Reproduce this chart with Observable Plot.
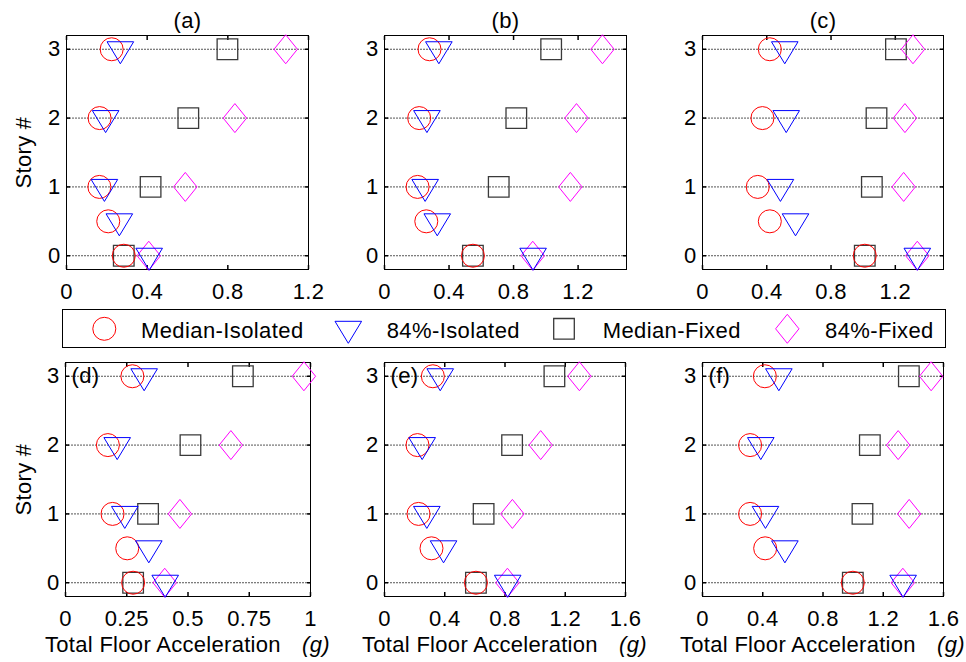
<!DOCTYPE html>
<html>
<head>
<meta charset="utf-8">
<script src="https://cdn.jsdelivr.net/npm/d3@7"></script>
<script src="https://cdn.jsdelivr.net/npm/@observablehq/plot@0.6"></script>
<style>
  body { margin: 0; background: #fff; }
  #wrap { position: relative; width: 966px; height: 662px; overflow: hidden; background: #fff;
          font-family: Arial, "Liberation Sans", sans-serif; }
  .panel { position: absolute; }
  #legend { position: absolute; left: 62px; top: 309px; width: 884px; height: 39px; }
</style>
</head>
<body>
<div id="wrap"></div>
<script>
// ---------------- data ----------------
const panelLabels = ["(a)", "(b)", "(c)", "(d)", "(e)", "(f)"];
const xMax = [1.2, 1.5, 1.5, 1, 1.6, 1.6];
const xTicks = [
  [0, 0.4, 0.8, 1.2],
  [0, 0.4, 0.8, 1.2],
  [0, 0.4, 0.8, 1.2],
  [0, 0.25, 0.5, 0.75, 1],
  [0, 0.4, 0.8, 1.2, 1.6],
  [0, 0.4, 0.8, 1.2, 1.6]
];
const yTicks = [0, 1, 2, 3];
const storyIso = [0, 0.5, 1, 2, 3];   // isolated: ground, isolation level, floors
const storyFix = [0, 1, 2, 3];        // fixed-base: ground, floors

const medianIso = [
  [0.284, 0.207, 0.163, 0.164, 0.224],
  [0.548, 0.259, 0.205, 0.215, 0.279],
  [1.010, 0.419, 0.344, 0.373, 0.419],
  [0.276, 0.252, 0.192, 0.173, 0.273],
  [0.607, 0.312, 0.226, 0.219, 0.321],
  [0.998, 0.416, 0.316, 0.316, 0.414]
];
const p84Iso = [
  [0.410, 0.262, 0.188, 0.194, 0.267],
  [0.921, 0.327, 0.252, 0.263, 0.337],
  [1.337, 0.579, 0.485, 0.521, 0.512],
  [0.407, 0.340, 0.242, 0.211, 0.321],
  [0.818, 0.392, 0.281, 0.250, 0.370],
  [1.332, 0.547, 0.418, 0.387, 0.507]
];
const medianFix = [
  [0.284, 0.417, 0.604, 0.798],
  [0.548, 0.708, 0.817, 1.033],
  [1.010, 1.054, 1.083, 1.204],
  [0.276, 0.337, 0.510, 0.724],
  [0.607, 0.658, 0.847, 1.128],
  [0.998, 1.062, 1.111, 1.370]
];
const p84Fix = [
  [0.408, 0.589, 0.835, 1.087],
  [0.919, 1.152, 1.190, 1.351],
  [1.337, 1.252, 1.260, 1.310],
  [0.405, 0.467, 0.675, 0.973],
  [0.816, 0.849, 1.037, 1.294],
  [1.330, 1.372, 1.299, 1.518]
];
const seriesNames = ["Median-Isolated", "84%-Isolated", "Median-Fixed", "84%-Fixed"];

// ---------------- symbols (MATLAB-like markers) ----------------
function kOf(size) { return Math.sqrt(size / Math.PI) / 12; }
const circleSym = { draw(ctx, size) { const R = 11.5 * kOf(size); ctx.moveTo(R, 0); ctx.arc(0, 0, R, 0, 2 * Math.PI); } };
const triDownSym = { draw(ctx, size) { const k = kOf(size), hw = 13.3 * k, t = -7.5 * k, a = 14.5 * k;
  ctx.moveTo(-hw, t); ctx.lineTo(hw, t); ctx.lineTo(0, a); ctx.closePath(); } };
const squareSym = { draw(ctx, size) { const h = 10.3 * kOf(size); ctx.rect(-h, -h, 2 * h, 2 * h); } };
const diamondSym = { draw(ctx, size) { const k = kOf(size), w = 11.7 * k, h = 14.5 * k;
  ctx.moveTo(0, -h); ctx.lineTo(w, 0); ctx.lineTo(0, h); ctx.lineTo(-w, 0); ctx.closePath(); } };
const seriesSymbols = [circleSym, triDownSym, squareSym, diamondSym];
const seriesColors = ["#ff0000", "#0000ff", "#3a3a3a", "#ff00ff"];
const seriesWidths = [1, 1, 1.3, 1];

// ---------------- layout ----------------
const layout = [
  { left: 0,   top: 0,   width: 325, height: 305, ml: 66, mr: 17, mt: 35, mb: 36 },
  { left: 330, top: 0,   width: 320, height: 305, ml: 54, mr: 24, mt: 35, mb: 36 },
  { left: 650, top: 0,   width: 316, height: 305, ml: 52, mr: 23, mt: 35, mb: 36 },
  { left: 0,   top: 350, width: 325, height: 312, ml: 65, mr: 15, mt: 12, mb: 66 },
  { left: 330, top: 350, width: 320, height: 312, ml: 54, mr: 25, mt: 12, mb: 66 },
  { left: 650, top: 350, width: 316, height: 312, ml: 52, mr: 23, mt: 12, mb: 66 }
];

function rows(stories, vals) { return stories.map((s, j) => ({ story: s, accel: vals[j] })); }

const wrap = document.getElementById("wrap");

for (let i = 0; i < 6; i++) {
  const L = layout[i];
  const bottomRow = i >= 3;
  const firstCol = i % 3 === 0;
  const marks = [
    Plot.ruleY(yTicks, { stroke: "#555", strokeWidth: 1, strokeDasharray: "2,1" }),
    Plot.frame({ stroke: "#000", strokeWidth: 1 }),
    // tick labels
    Plot.axisX(xTicks[i], { anchor: "bottom", tickSize: 0, tickPadding: 14, tickFormat: d => String(d), label: null }),
    Plot.axisY(yTicks, { anchor: "left", tickSize: 0, tickPadding: 6, tickFormat: d => String(d), label: null }),
    // inward tick marks on all four sides
    Plot.axisX(xTicks[i], { anchor: "bottom", tickSize: 4, dy: -4, tickFormat: () => "", label: null, strokeWidth: 1.5 }),
    Plot.axisX(xTicks[i], { anchor: "top", tickSize: 4, dy: 4, tickFormat: () => "", label: null, strokeWidth: 1.5 }),
    Plot.axisY(yTicks, { anchor: "left", tickSize: 4, dx: 4, tickFormat: () => "", label: null, strokeWidth: 1.5 }),
    Plot.axisY(yTicks, { anchor: "right", tickSize: 4, dx: -4, tickFormat: () => "", label: null, strokeWidth: 1.5 }),
    // data markers
    Plot.dot(rows(storyFix, medianFix[i]), { x: "accel", y: "story", symbol: squareSym, r: 12, fill: "none", stroke: seriesColors[2], strokeWidth: seriesWidths[2] }),
    Plot.dot(rows(storyFix, p84Fix[i]), { x: "accel", y: "story", symbol: diamondSym, r: 12, fill: "none", stroke: seriesColors[3], strokeWidth: seriesWidths[3] }),
    Plot.dot(rows(storyIso, medianIso[i]), { x: "accel", y: "story", symbol: circleSym, r: 12, fill: "none", stroke: seriesColors[0], strokeWidth: seriesWidths[0] }),
    Plot.dot(rows(storyIso, p84Iso[i]), { x: "accel", y: "story", symbol: triDownSym, r: 12, fill: "none", stroke: seriesColors[1], strokeWidth: seriesWidths[1] })
  ];
  if (bottomRow) {
    marks.push(Plot.text([panelLabels[i]], { text: d => d, frameAnchor: "top-left", dx: 6, dy: 13, textAnchor: "start", lineAnchor: "middle" }));
    marks.push(Plot.text(["Total Floor Acceleration"], { text: d => d, frameAnchor: "bottom", dx: -143, dy: 55, textAnchor: "start", lineAnchor: "bottom" }));
    marks.push(Plot.text(["(g)"], { text: d => d, frameAnchor: "bottom", dx: 114, dy: 55, textAnchor: "start", lineAnchor: "bottom", fontStyle: "italic" }));
  } else {
    marks.push(Plot.text([panelLabels[i]], { text: d => d, frameAnchor: "top", dy: -8, lineAnchor: "bottom" }));
  }
  if (firstCol) {
    marks.push(Plot.text(["Story #"], { text: d => d, frameAnchor: "left", dx: -L.ml + 23, rotate: -90, lineAnchor: "middle", textAnchor: "middle" }));
  }
  const chart = Plot.plot({
    width: L.width, height: L.height,
    marginLeft: L.ml, marginRight: L.mr, marginTop: L.mt, marginBottom: L.mb,
    style: "font-family: Arial, 'Liberation Sans', sans-serif; font-size: 22px; letter-spacing: 0.3px; color: #000; background: transparent; overflow: visible;",
    x: { domain: [0, xMax[i]] },
    y: { domain: [-0.2, 3.2] },
    marks
  });
  const div = document.createElement("div");
  div.className = "panel";
  div.style.left = L.left + "px"; div.style.top = L.top + "px";
  div.style.width = L.width + "px"; div.style.height = L.height + "px";
  div.appendChild(chart);
  wrap.appendChild(div);
}

// ---------------- legend ----------------
const legendSymX = [42.3, 286.3, 502, 725.3];
const legendTextX = [79, 324.7, 540.7, 763];
const lg = d3.select(wrap).append("svg").attr("id", "legend").attr("width", 884).attr("height", 39)
  .style("font-family", "Arial, 'Liberation Sans', sans-serif").style("font-size", "22px").style("letter-spacing", "0.4px");
lg.append("rect").attr("x", 0.5).attr("y", 0.5).attr("width", 883).attr("height", 38).attr("fill", "#fff").attr("stroke", "#000");
seriesNames.forEach((name, j) => {
  lg.append("path").attr("transform", `translate(${legendSymX[j]},19.8)`)
    .attr("d", d3.symbol(seriesSymbols[j], 144 * Math.PI)())
    .attr("fill", "none").attr("stroke", seriesColors[j]).attr("stroke-width", seriesWidths[j]);
  lg.append("text").attr("x", legendTextX[j]).attr("y", 28.6).attr("fill", "#000").text(name);
});
</script>
</body>
</html>
